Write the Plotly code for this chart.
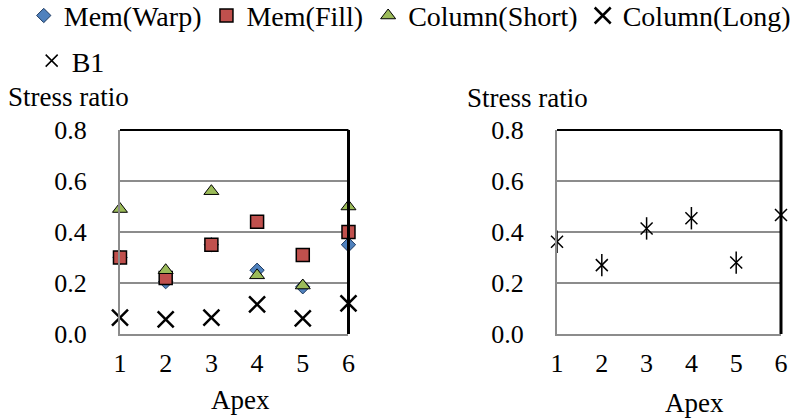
import plotly.graph_objects as go

apex = [1, 2, 3, 4, 5, 6]
mem_warp = [0.30, 0.205, 0.35, 0.25, 0.185, 0.35]
mem_fill = [0.30, 0.22, 0.35, 0.44, 0.31, 0.40]
col_short = [0.49, 0.25, 0.56, 0.23, 0.19, 0.50]
col_long = [0.064, 0.057, 0.064, 0.116, 0.061, 0.12]
b1 = [0.362, 0.27, 0.414, 0.454, 0.28, 0.467]
y_ticks = [0.0, 0.2, 0.4, 0.6, 0.8]

FONT = "Liberation Serif, Times New Roman, serif"
GRAY = "#8c8c8c"

fig = go.Figure()
fig.add_trace(go.Scatter(x=apex, y=mem_warp, mode="markers", name="Mem(Warp)",
                         marker=dict(symbol="diamond", size=11, color="#4F81BD",
                                     line=dict(color="#1f3a5f", width=1)),
                         cliponaxis=False, xaxis="x", yaxis="y"))
fig.add_trace(go.Scatter(x=apex, y=mem_fill, mode="markers", name="Mem(Fill)",
                         marker=dict(symbol="square", size=13, color="#C0504D",
                                     line=dict(color="black", width=1.5)),
                         cliponaxis=False, xaxis="x", yaxis="y"))
fig.add_trace(go.Scatter(x=apex, y=col_short, mode="markers", name="Column(Short)",
                         marker=dict(symbol="triangle-up", size=13, color="#9BBB59",
                                     line=dict(color="black", width=1)),
                         cliponaxis=False, xaxis="x", yaxis="y"))
fig.add_trace(go.Scatter(x=apex, y=col_long, mode="markers", name="Column(Long)",
                         marker=dict(symbol="x-thin-open", size=16, color="black",
                                     line=dict(color="black", width=2.5)),
                         cliponaxis=False, xaxis="x", yaxis="y"))
fig.add_trace(go.Scatter(x=apex, y=b1, mode="markers", name="B1", legend="legend2",
                         marker=dict(symbol="x-thin-open", size=12, color="black",
                                     line=dict(color="black", width=1.5)),
                         cliponaxis=False, xaxis="x2", yaxis="y2"))
fig.add_trace(go.Scatter(x=apex, y=b1, mode="markers", name="B1", showlegend=False,
                         marker=dict(symbol="line-ns-open", size=16, color="black",
                                     line=dict(color="black", width=1.5)),
                         cliponaxis=False, xaxis="x2", yaxis="y2"))

xcommon = dict(range=[1, 6], tickvals=apex, showgrid=False, zeroline=False,
               showline=True, linecolor=GRAY, linewidth=2, ticks="", automargin=False,
               ticklabelstandoff=5, tickfont=dict(family=FONT, size=26, color="black"))
ycommon = dict(range=[0, 0.8], tickvals=y_ticks, tickformat=".1f", showgrid=True,
               gridcolor=GRAY, gridwidth=2, zeroline=False, showline=True, automargin=False,
               linecolor=GRAY, linewidth=2, ticks="", ticklabelstandoff=26,
               tickfont=dict(family=FONT, size=26, color="black"))

legend_font = dict(family=FONT, size=28, color="black")

fig.update_layout(
    width=792, height=418,
    margin=dict(l=0, r=0, t=0, b=0, autoexpand=False),
    paper_bgcolor="white", plot_bgcolor="white",
    font=dict(family=FONT, size=26, color="black"),
    xaxis=dict(domain=[0.1515, 0.4400], anchor="y", **xcommon),
    yaxis=dict(domain=[0.201, 0.689], anchor="x", **ycommon),
    xaxis2=dict(domain=[0.7033, 0.9861], anchor="y2", **xcommon),
    yaxis2=dict(domain=[0.201, 0.689], anchor="x2", **ycommon),
    legend=dict(orientation="h", x=0.03, xanchor="left", y=1.022, yanchor="top",
                font=legend_font, bgcolor="rgba(0,0,0,0)"),
    legend2=dict(orientation="h", x=0.04, xanchor="left", y=0.914, yanchor="top",
                 font=legend_font, bgcolor="rgba(0,0,0,0)"),
    showlegend=True,
)

for xa, ya in [("x", "y"), ("x2", "y2")]:
    fig.add_shape(type="line", xref=f"{xa} domain", yref=f"{ya} domain",
                  x0=0, x1=1, y0=1, y1=1, line=dict(color="black", width=2))
    fig.add_shape(type="line", xref=f"{xa} domain", yref=f"{ya} domain",
                  x0=1, x1=1, y0=0, y1=1, line=dict(color="black", width=3))

annots = [
    dict(text="Stress ratio", x=0.007, y=0.768, xanchor="left", yanchor="middle"),
    dict(text="Stress ratio", x=0.587, y=0.765, xanchor="left", yanchor="middle"),
    dict(text="Apex", x=0.304, y=0.042, xanchor="center", yanchor="middle"),
    dict(text="Apex", x=0.877, y=0.036, xanchor="center", yanchor="middle"),
]
for a in annots:
    fig.add_annotation(xref="paper", yref="paper", showarrow=False,
                       font=dict(family=FONT, size=27, color="black"), **a)

fig.write_html("out.html", config={"displayModeBar": False},
               post_script="document.body.style.margin='0';document.body.style.overflow='hidden';")
